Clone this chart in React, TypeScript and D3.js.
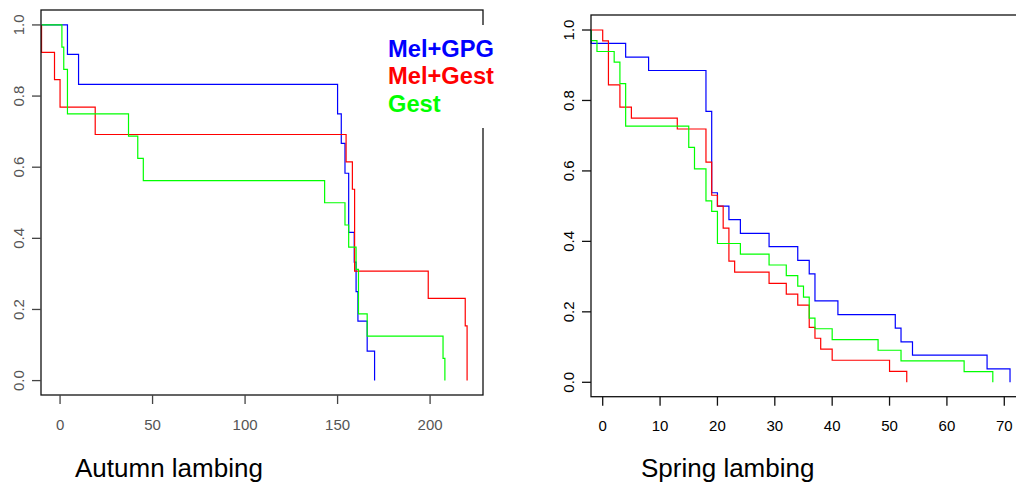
import React from 'react';
import * as d3 from 'd3';

// Autumn lambing: Kaplan-Meier steps (time, survival after the event)
const autumnStart = -10;
const autumnGpgTimes = [4, 10, 150, 152, 154, 156, 159, 160, 161, 166, 170];
const autumnGpgSurv = [0.917, 0.833, 0.75, 0.667, 0.583, 0.417, 0.333, 0.25, 0.167, 0.083, 0];
const autumnMelGestTimes = [-10, -3, 0, 19, 154.6, 158, 159.2, 199, 219, 220];
const autumnMelGestSurv = [0.923, 0.846, 0.769, 0.692, 0.615, 0.538, 0.308, 0.231, 0.154, 0];
const autumnGestTimes = [1, 2, 4, 37, 42, 45, 143, 154, 156, 160, 161.3, 166, 207, 208];
const autumnGestSurv = [0.9375, 0.875, 0.75, 0.6875, 0.625, 0.5625, 0.5, 0.4375, 0.375, 0.3125, 0.1875, 0.125, 0.0625, 0];

// Spring lambing
const springStart = -2;
const springGpgTimes = [-2, 4, 8, 18, 19, 20, 22, 24, 29, 34, 36, 37, 41, 51, 52, 54, 67, 71];
const springGpgSurv = [0.962, 0.923, 0.885, 0.769, 0.538, 0.5, 0.462, 0.423, 0.385, 0.346, 0.308, 0.231, 0.192, 0.154, 0.115, 0.077, 0.038, 0];
const springMelGestTimes = [0, 1, 3, 5, 13, 18, 19, 20, 21, 22, 23, 29, 32, 34, 36, 37, 38, 40, 50, 53];
const springMelGestSurv = [0.969, 0.844, 0.781, 0.75, 0.719, 0.625, 0.531, 0.5, 0.4375, 0.344, 0.3125, 0.281, 0.25, 0.219, 0.156, 0.125, 0.094, 0.0625, 0.031, 0];
const springGestTimes = [-2, -1, 2, 3, 4, 15, 16, 18, 19, 20, 24, 29, 32, 34, 35, 36, 37, 40, 48, 52, 63, 68];
const springGestSurv = [0.97, 0.939, 0.909, 0.848, 0.727, 0.667, 0.606, 0.515, 0.485, 0.394, 0.364, 0.333, 0.303, 0.273, 0.242, 0.182, 0.152, 0.121, 0.091, 0.061, 0.03, 0];

const groupNames = ['Mel+GPG', 'Mel+Gest', 'Gest'];
const groupColors = ['#0000ff', '#ff0000', '#00ff00'];

const autumnXTicks = [0, 50, 100, 150, 200];
const springXTicks = [0, 10, 20, 30, 40, 50, 60, 70];
const yTicks = [0, 0.2, 0.4, 0.6, 0.8, 1.0];

const font = "'Liberation Sans', Arial, sans-serif";

type Pt = [number, number];

const toSteps = (start: number, times: number[], surv: number[]): Pt[] => {
  const pts: Pt[] = [[start, 1]];
  times.forEach((t, i) => pts.push([t, surv[i]]));
  return pts;
};

interface PanelProps {
  box: { left: number; right: number; top: number; bottom: number };
  xDomain: [number, number];
  yDomain: [number, number];
  xTicks: number[];
  curves: Pt[][];
  title: string;
  titleX: number;
  labelColor: string;
  tickColor: string;
  xLabelY: number;
  yLabelX: number;
}

const Panel: React.FC<PanelProps> = ({ box, xDomain, yDomain, xTicks, curves, title, titleX, labelColor, tickColor, xLabelY, yLabelX }) => {
  const x = d3.scaleLinear().domain(xDomain).range([box.left, box.right]);
  const y = d3.scaleLinear().domain(yDomain).range([box.bottom, box.top]);
  const line = d3.line<Pt>().x(d => x(d[0])).y(d => y(d[1])).curve(d3.curveStepAfter);

  return (
    <g>
      {curves.map((c, i) => (
        <path key={i} d={line(c) || ''} fill="none" stroke={groupColors[i]} strokeWidth={1.2} />
      ))}
      <rect x={box.left} y={box.top} width={box.right - box.left} height={box.bottom - box.top}
        fill="none" stroke="#111" strokeWidth={1.3} />
      {xTicks.map(t => (
        <g key={t}>
          <line x1={x(t)} x2={x(t)} y1={box.bottom} y2={box.bottom + 9} stroke={tickColor} strokeWidth={1.3} />
          <text x={x(t)} y={xLabelY} textAnchor="middle" fontSize={15} fill={labelColor} fontFamily={font}>{t}</text>
        </g>
      ))}
      {yTicks.map(t => (
        <g key={t}>
          <line x1={box.left - 9} x2={box.left} y1={y(t)} y2={y(t)} stroke={tickColor} strokeWidth={1.3} />
          <text transform={`translate(${yLabelX},${y(t)}) rotate(-90)`} textAnchor="middle" fontSize={15}
            fill={labelColor} fontFamily={font}>{t.toFixed(1)}</text>
        </g>
      ))}
      <text x={titleX} y={477} fontSize={26} fontFamily={font} fill="#000">{title}</text>
    </g>
  );
};

const App: React.FC = () => {
  const autumnCurves = [
    toSteps(autumnStart, autumnGpgTimes, autumnGpgSurv),
    toSteps(autumnStart, autumnMelGestTimes, autumnMelGestSurv),
    toSteps(autumnStart, autumnGestTimes, autumnGestSurv),
  ];
  const springCurves = [
    toSteps(springStart, springGpgTimes, springGpgSurv),
    toSteps(springStart, springMelGestTimes, springMelGestSurv),
    toSteps(springStart, springGestTimes, springGestSurv),
  ];

  return (
    <svg width={1016} height={483} style={{ position: 'absolute', left: 0, top: 0, background: '#fff' }}>
      <Panel
        box={{ left: 41, right: 483, top: 10, bottom: 395 }}
        xDomain={[-10.3, 228.6]}
        yDomain={[-0.0405, 1.042]}
        xTicks={autumnXTicks}
        curves={autumnCurves}
        title="Autumn lambing"
        titleX={75}
        labelColor="#555"
        tickColor="#444"
        xLabelY={429.5}
        yLabelX={23.5}
      />
      {/* legend with white backing, covering the frame */}
      <rect x={380} y={25} width={120} height={103} fill="#fff" />
      {groupNames.map((n, i) => (
        <text key={n} x={388} y={56.5 + i * 27.6} fontSize={23.7} fontWeight="bold" fill={groupColors[i]} fontFamily={font}>{n}</text>
      ))}
      <Panel
        box={{ left: 591, right: 1027, top: 15, bottom: 396.7 }}
        xDomain={[-2.04, 73.96]}
        yDomain={[-0.0409, 1.0426]}
        xTicks={springXTicks}
        curves={springCurves}
        title="Spring lambing"
        titleX={641}
        labelColor="#000"
        tickColor="#111"
        xLabelY={431}
        yLabelX={573.5}
      />
    </svg>
  );
};

export default App;
